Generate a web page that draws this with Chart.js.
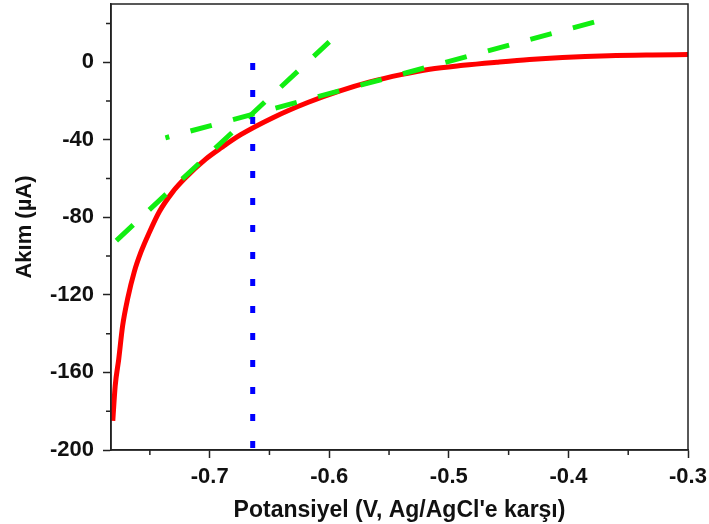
<!DOCTYPE html>
<html>
<head>
<meta charset="utf-8">
<script src="https://cdn.jsdelivr.net/npm/chart.js@4"></script>
<style>
  html, body { margin: 0; padding: 0; background: #fff; }
  #wrap { width: 709px; height: 524px; }
</style>
</head>
<body>
<div id="wrap"><canvas id="c"></canvas></div>
<script>
'use strict';
// measured curve (potential V, current uA)
const POTENTIAL = [-0.781, -0.779, -0.776, -0.7728, -0.7686, -0.763, -0.7575, -0.7506, -0.742, -0.731,
  -0.72, -0.7033, -0.69, -0.674, -0.6467, -0.618, -0.591, -0.566, -0.54, -0.516,
  -0.488, -0.46, -0.4325, -0.405, -0.366, -0.33, -0.3];
const CURRENT = [-185, -167, -153, -136, -122, -108, -98, -88, -77, -67,
  -59.5, -50, -44, -37.4, -28.5, -20.8, -14.8, -10.2, -6.4, -3.6,
  -1.6, 0, 1.4, 2.4, 3.3, 3.7, 3.9];

// tangent lines (endpoints)
const TANGENT1_X = [-0.778, -0.6];
const TANGENT1_Y = [-92, 10.5];
const TANGENT2_X = [-0.737, -0.378];
const TANGENT2_Y = [-39, 20.7];

// vertical marker
const MARKER_X = [-0.664, -0.664];
const MARKER_Y = [-199, 2];

const X_TICKS = [-0.7, -0.6, -0.5, -0.4, -0.3];
const X_MINOR = [-0.75, -0.65, -0.55, -0.45, -0.35];
const Y_TICKS = [-200, -160, -120, -80, -40, 0];
const Y_MINOR = [-180, -140, -100, -60, -20, 20];

const FONT = "'Liberation Sans', Arial, sans-serif";
const pts = (xs, ys) => xs.map((x, i) => ({ x, y: ys[i] }));

const frame = {
  id: 'frame',
  afterDraw(chart) {
    const { ctx, chartArea: a, scales } = chart;
    ctx.save();
    ctx.strokeStyle = '#222';
    ctx.lineWidth = 1.5;
    ctx.strokeRect(a.left, a.top, a.right - a.left, a.bottom - a.top);
    ctx.beginPath();
    for (const v of X_MINOR) {
      const px = scales.x.getPixelForValue(v);
      ctx.moveTo(px, a.bottom); ctx.lineTo(px, a.bottom + 5);
    }
    for (const v of Y_MINOR) {
      const py = scales.y.getPixelForValue(v);
      ctx.moveTo(a.left - 5, py); ctx.lineTo(a.left, py);
    }
    ctx.stroke();
    ctx.restore();
  }
};

new Chart(document.getElementById('c'), {
  type: 'scatter',
  data: {
    datasets: [
      {
        data: pts(MARKER_X, MARKER_Y),
        showLine: true, borderColor: '#0000ff', borderWidth: 5,
        borderDash: [7, 20], pointRadius: 0, order: 1,
      },
      {
        data: pts(TANGENT1_X, TANGENT1_Y),
        showLine: true, borderColor: '#11ee11', borderWidth: 5,
        borderDash: [23, 22], pointRadius: 0, order: 2,
      },
      {
        data: pts(TANGENT2_X, TANGENT2_Y),
        showLine: true, borderColor: '#11ee11', borderWidth: 5,
        borderDash: [22, 22], borderDashOffset: 18, pointRadius: 0, order: 2,
      },
      {
        data: pts(POTENTIAL, CURRENT),
        showLine: true, borderColor: '#ff0000', borderWidth: 5,
        cubicInterpolationMode: 'monotone', pointRadius: 0, order: 3,
      },
    ],
  },
  options: {
    responsive: true, maintainAspectRatio: false,
    animation: false,
    layout: { padding: { top: 4, right: 21, left: 0, bottom: 0 } },
    plugins: { legend: { display: false }, tooltip: { enabled: false } },
    scales: {
      x: {
        type: 'linear', min: -0.7825, max: -0.3,
        afterBuildTicks: s => { s.ticks = X_TICKS.map(value => ({ value })); },
        afterFit: s => { s.height = 74; s.paddingLeft = 0; s.paddingRight = 0; },
        ticks: {
          color: '#111', padding: 6,
          font: { family: FONT, size: 22, weight: 'bold' },
          callback: v => v.toFixed(1),
        },
        grid: { drawOnChartArea: false, tickLength: 8, tickWidth: 1.5, tickColor: '#222' },
        border: { color: '#222', width: 1.5 },
        title: {
          display: true, text: "Potansiyel (V, Ag/AgCl'e karşı)", color: '#111',
          font: { family: FONT, size: 23, weight: 'bold' },
          padding: { top: 4, bottom: 0 },
        },
      },
      y: {
        type: 'linear', min: -200, max: 30,
        afterBuildTicks: s => { s.ticks = Y_TICKS.map(value => ({ value })); },
        afterFit: s => { s.width = 111; s.paddingTop = 0; s.paddingBottom = 0; },
        ticks: {
          color: '#111', padding: 9,
          font: { family: FONT, size: 22, weight: 'bold' },
        },
        grid: { drawOnChartArea: false, tickLength: 8, tickWidth: 1.5, tickColor: '#222' },
        border: { color: '#222', width: 1.5 },
        title: {
          display: true, text: 'Akım (µA)', color: '#111',
          font: { family: FONT, size: 22, weight: 'bold' },
          padding: { top: 12, bottom: 0 },
        },
      },
    },
  },
  plugins: [frame],
});
</script>
</body>
</html>
